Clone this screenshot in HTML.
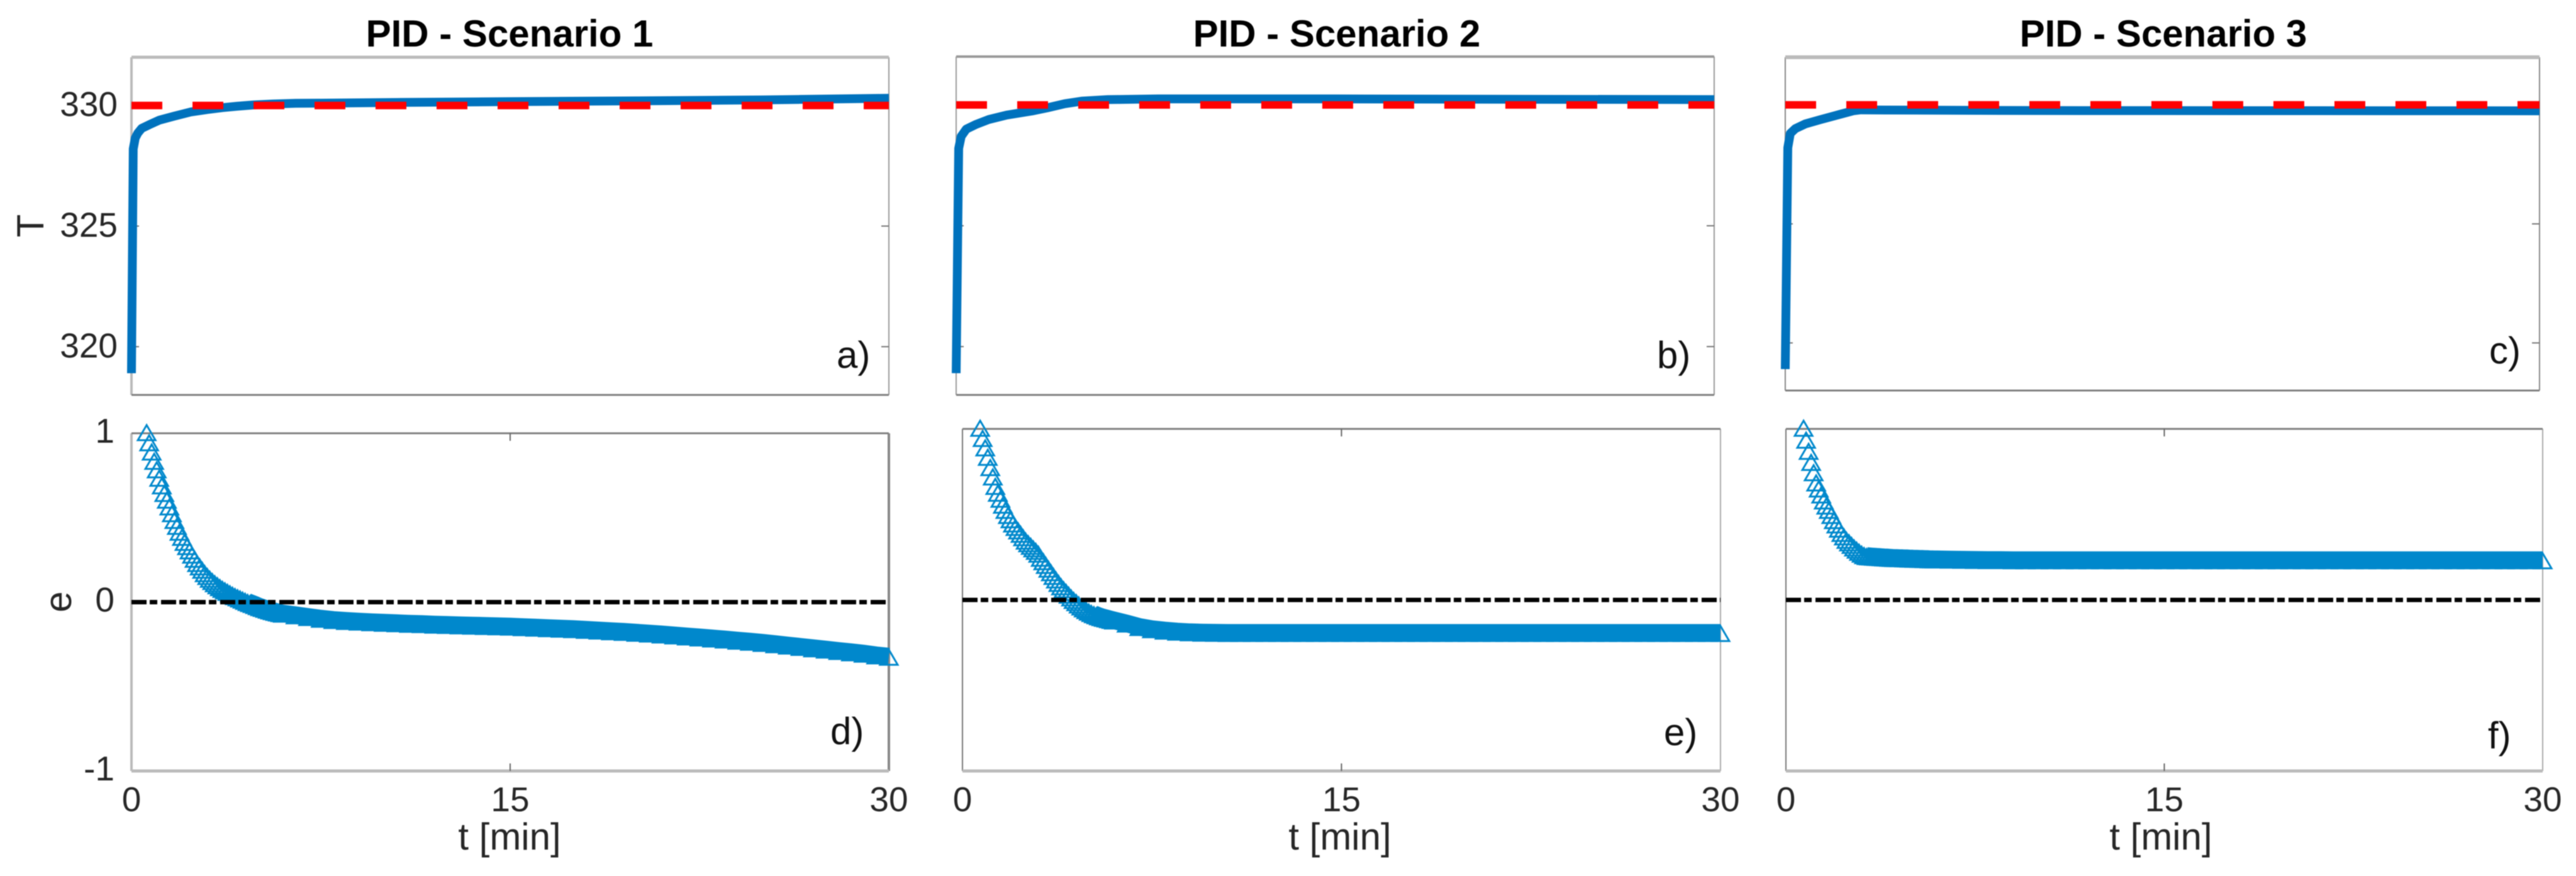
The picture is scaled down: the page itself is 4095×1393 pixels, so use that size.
<!DOCTYPE html>
<html lang="en">
<head>
<meta charset="utf-8">
<title>PID scenarios</title>
<style>
html,body{margin:0;padding:0;background:#fff;}
#figure{display:block;width:4095px;height:1393px;background:#fff;filter:blur(0.8px);}
text{font-family:"Liberation Sans",sans-serif;fill:#262626;font-size:55px;}
.title{font-size:60px;font-weight:bold;fill:#000;text-anchor:middle;}
.axis-title{font-size:60px;}
.panel-label{font-size:60px;fill:#111;}
</style>
</head>
<body>
<svg id="figure" xmlns="http://www.w3.org/2000/svg" width="4095" height="1393" viewBox="0 0 4095 1393">
  <text class="title" x="810" y="74">PID - Scenario 1</text>
  <text class="title" x="2125" y="74">PID - Scenario 2</text>
  <text class="title" x="3439" y="74">PID - Scenario 3</text>
  <text class="axis-title" transform="translate(69,359) rotate(-90)" text-anchor="middle">T</text>
  <text class="axis-title" transform="translate(113,957) rotate(-90)" text-anchor="middle">e</text>
  <text class="axis-title" x="810" y="1351" text-anchor="middle">t [min]</text>
  <text class="axis-title" x="2130" y="1351" text-anchor="middle">t [min]</text>
  <text class="axis-title" x="3435" y="1351" text-anchor="middle">t [min]</text>
  <g id="plots"></g>
  <text class="panel-label" x="1330" y="585">a)</text>
  <text class="panel-label" x="2634" y="585">b)</text>
  <text class="panel-label" x="3957" y="578">c)</text>
  <text class="panel-label" x="1320" y="1183">d)</text>
  <text class="panel-label" x="2645" y="1185">e)</text>
  <text class="panel-label" x="3955" y="1190">f)</text>
</svg>
<script>
// ---- Chart data ----
const tempYTicks = [320, 325, 330];
const tempYTickLabels = ['320', '325', '330'];
const errorYTicks = [-1, 0, 1];
const errorYTickLabels = ['-1', '0', '1'];
const xTicks = [0, 15, 30];
const xTickLabels = ['0', '15', '30'];
const setpointTemp = [330];
const setpointError = [0];

const tempTimesA = [0, 0.07, 0.15, 0.25, 0.4, 0.7, 1.1, 1.7, 2.34, 3, 3.6, 4.2, 4.83, 5.6, 6.5, 8, 10, 15, 20, 25, 30];
const tempValuesA = [318.9, 328.2, 328.65, 328.85, 329.05, 329.2, 329.39, 329.56, 329.73, 329.83, 329.91, 329.97, 330.02, 330.06, 330.09, 330.1, 330.12, 330.16, 330.19, 330.23, 330.3];

const tempTimesB = [0, 0.1, 0.2, 0.4, 0.8, 1.3, 2, 3, 3.6, 4.3, 5, 6, 8, 15, 30];
const tempValuesB = [318.9, 328.2, 328.7, 329, 329.2, 329.4, 329.58, 329.75, 329.88, 330.05, 330.16, 330.22, 330.25, 330.25, 330.22];

const tempTimesC = [0, 0.1, 0.2, 0.4, 0.8, 1.4, 2, 2.7, 3, 4, 10, 30];
const tempValuesC = [318.9, 328.2, 328.8, 329, 329.2, 329.38, 329.55, 329.75, 329.79, 329.78, 329.76, 329.75];

const errorTimes = [0.6,0.7,0.8,0.9,1.0,1.1,1.2,1.3,1.4,1.5,1.6,1.7,1.8,1.9,2.0,2.1,2.2,2.3,2.4,2.5,2.6,2.7,2.8,2.9,3.0,3.1,3.2,3.3,3.4,3.5,3.6,3.7,3.8,3.9,4.0,4.1,4.2,4.3,4.4,4.5,4.6,4.7,4.8,4.9,5.0,5.1,5.2,5.3,5.4,5.5,5.6,5.7,5.8,5.9,6.0,
  6.5,7,7.5,8,8.5,9,9.5,10,10.5,11,11.5,12,12.5,13,13.5,14,14.5,15,15.5,16,16.5,17,17.5,18,18.5,19,19.5,20,20.5,21,21.5,22,22.5,23,23.5,24,24.5,25,25.5,26,26.5,27,27.5,28,28.5,29,29.5,30];

const errorValuesD = [1,0.94,0.885,0.83,0.78,0.73,0.685,0.64,0.6,0.56,0.52,0.48,0.445,0.41,0.38,0.35,0.325,0.3,0.275,0.25,0.225,0.205,0.185,0.165,0.148,0.132,0.118,0.105,0.093,0.082,0.072,0.063,0.054,0.045,0.037,0.029,0.022,0.015,0.008,0.001,-0.006,-0.012,-0.018,-0.024,-0.03,-0.036,-0.041,-0.046,-0.051,-0.056,-0.06,-0.064,-0.068,-0.072,-0.075,
  -0.085,-0.095,-0.105,-0.113,-0.118,-0.122,-0.126,-0.129,-0.132,-0.135,-0.137,-0.14,-0.142,-0.144,-0.146,-0.148,-0.15,-0.152,-0.155,-0.158,-0.161,-0.164,-0.167,-0.171,-0.175,-0.179,-0.183,-0.188,-0.193,-0.198,-0.204,-0.21,-0.216,-0.222,-0.228,-0.235,-0.241,-0.248,-0.256,-0.264,-0.272,-0.28,-0.288,-0.296,-0.304,-0.312,-0.322,-0.33];

const errorValuesE = [null,1,0.94,0.885,0.83,0.77,0.715,0.66,0.62,0.585,0.55,0.52,0.49,0.465,0.44,0.42,0.4,0.38,0.36,0.34,0.325,0.31,0.295,0.28,0.264,0.24,0.22,0.198,0.176,0.155,0.134,0.113,0.093,0.073,0.056,0.04,0.024,0.008,-0.007,-0.02,-0.033,-0.045,-0.056,-0.066,-0.075,-0.083,-0.09,-0.096,-0.102,-0.107,-0.111,-0.115,-0.119,-0.123,-0.127,
  -0.145,-0.165,-0.178,-0.186,-0.192,-0.196,-0.198,-0.199,-0.2,-0.2,-0.2,-0.2,-0.2,-0.2,-0.2,-0.2,-0.2,-0.2,-0.2,-0.2,-0.2,-0.2,-0.2,-0.2,-0.2,-0.2,-0.2,-0.2,-0.2,-0.2,-0.2,-0.2,-0.2,-0.2,-0.2,-0.2,-0.2,-0.2,-0.2,-0.2,-0.2,-0.2,-0.2,-0.2,-0.2,-0.2,-0.2,-0.2];

const errorValuesF = [null,1,0.93,0.865,0.8,0.74,0.68,0.645,0.61,0.575,0.545,0.52,0.49,0.46,0.435,0.41,0.385,0.365,0.345,0.33,0.315,0.3,0.287,0.275,0.264,0.255,0.25,0.248,0.247,0.246,0.245,0.244,0.243,0.242,0.241,0.24,0.239,0.238,0.238,0.237,0.237,0.236,0.236,0.235,0.235,0.234,0.234,0.233,0.233,0.232,0.232,0.231,0.231,0.23,0.23,
  0.229,0.228,0.227,0.226,0.226,0.225,0.225,0.225,0.225,0.225,0.225,0.225,0.225,0.225,0.225,0.225,0.225,0.225,0.225,0.225,0.225,0.225,0.225,0.225,0.225,0.225,0.225,0.225,0.225,0.225,0.225,0.225,0.225,0.225,0.225,0.225,0.225,0.225,0.225,0.225,0.225,0.225,0.225,0.225,0.225,0.225,0.225,0.225];

// ---- Rendering ----
const SVG_NS = 'http://www.w3.org/2000/svg';
const plots = document.getElementById('plots');

function make(parent, tag, attrs, name) {
  const el = document.createElementNS(SVG_NS, tag);
  for (const k in attrs) el.setAttribute(k, attrs[k]);
  
  
  parent.appendChild(el);
  return el;
}

function scaleLinear(d0, d1, r0, r1) {
  return function (v) { return r0 + (v - d0) * (r1 - r0) / (d1 - d0); };
}

function drawFrame(g, box, styles) {
  make(g, 'line', {x1: box.l, x2: box.l, y1: box.t, y2: box.b, stroke: styles.left[0], 'stroke-width': styles.left[1]}, 'axis-left');
  make(g, 'line', {x1: box.r, x2: box.r, y1: box.t, y2: box.b, stroke: styles.right[0], 'stroke-width': styles.right[1]}, 'axis-right');
  make(g, 'line', {x1: box.l, x2: box.r, y1: box.t, y2: box.t, stroke: styles.top[0], 'stroke-width': styles.top[1]}, 'axis-top');
  make(g, 'line', {x1: box.l, x2: box.r, y1: box.b, y2: box.b, stroke: styles.bottom[0], 'stroke-width': styles.bottom[1]}, 'axis-bottom');
}

function drawYLabels(g, ticks, labels, y, rightX, baselineOffset) {
  ticks.forEach(function (v, i) {
    const t = make(g, 'text', {x: rightX, y: y(v) + baselineOffset, 'text-anchor': 'end'}, 'y-tick-label');
    t.textContent = labels[i];
  });
}

function drawTempPanel(cfg) {
  const g = make(plots, 'g', {}, 'temperature-panel-' + cfg.id);
  const x = scaleLinear(0, 30, cfg.box.l, cfg.box.r);
  const y = scaleLinear(318, 332, cfg.box.b, cfg.box.t);
  drawFrame(g, cfg.box, cfg.frame);
  tempYTicks.forEach(function (v) {
    make(g, 'line', {x1: cfg.box.l, x2: cfg.box.l + 12, y1: y(v), y2: y(v), stroke: '#777', 'stroke-width': 2}, 'y-tick-left');
    make(g, 'line', {x1: cfg.box.r - 12, x2: cfg.box.r, y1: y(v), y2: y(v), stroke: '#777', 'stroke-width': 2}, 'y-tick-right');
  });
  if (cfg.labels) drawYLabels(g, tempYTicks, tempYTickLabels, y, 187, 17);
  const pts = cfg.times.map(function (t, i) { return x(t).toFixed(1) + ',' + y(cfg.values[i]).toFixed(1); }).join(' ');
  make(g, 'polyline', {points: pts, fill: 'none', stroke: '#0072BD', 'stroke-width': 14, 'stroke-linejoin': 'round'}, 'temperature-line');
  make(g, 'line', {x1: cfg.box.l, x2: cfg.box.r, y1: y(setpointTemp[0]), y2: y(setpointTemp[0]), stroke: '#ff0000', 'stroke-width': 12, 'stroke-dasharray': '49 48'}, 'setpoint-line');
}

function drawErrorPanel(cfg) {
  const g = make(plots, 'g', {}, 'error-panel-' + cfg.id);
  const x = scaleLinear(0, 30, cfg.box.l, cfg.box.r);
  const y = scaleLinear(-1, 1, cfg.box.b, cfg.box.t);
  drawFrame(g, cfg.box, cfg.frame);
  make(g, 'line', {x1: x(xTicks[1]), x2: x(xTicks[1]), y1: cfg.box.t, y2: cfg.box.t + 12, stroke: '#666', 'stroke-width': 2}, 'x-tick-top');
  make(g, 'line', {x1: x(xTicks[1]), x2: x(xTicks[1]), y1: cfg.box.b - 12, y2: cfg.box.b, stroke: '#666', 'stroke-width': 2}, 'x-tick-bottom');
  xTicks.forEach(function (v, i) {
    const t = make(g, 'text', {x: x(v), y: 1290, 'text-anchor': 'middle'}, 'x-tick-label');
    t.textContent = xTickLabels[i];
  });
  if (cfg.labels) {
    drawYLabels(g, errorYTicks, errorYTickLabels, y, 182, 15);
  }
  errorTimes.forEach(function (t, i) {
    const v = cfg.values[i];
    if (v === null) return;
    const cx = x(t), cy = y(v);
    const pts = cx.toFixed(1) + ',' + (cy - 13).toFixed(1) + ' ' + (cx - 14).toFixed(1) + ',' + (cy + 11).toFixed(1) + ' ' + (cx + 14).toFixed(1) + ',' + (cy + 11).toFixed(1);
    make(g, 'polygon', {points: pts, fill: 'none', stroke: '#0088cc', 'stroke-width': 3}, 'error-marker');
  });
  // solid band joining the late samples, where the markers fully overlap
  const band = [];
  errorTimes.forEach(function (t, i) {
    if (t >= cfg.bandFrom && cfg.values[i] !== null) band.push(x(t).toFixed(1) + ',' + (y(cfg.values[i]) - 2).toFixed(1));
  });
  make(g, 'polyline', {points: band.join(' '), fill: 'none', stroke: '#0088cc', 'stroke-width': 28}, 'error-band');
  make(g, 'line', {x1: cfg.box.l, x2: cfg.box.r, y1: y(setpointError[0]), y2: y(setpointError[0]), stroke: '#000', 'stroke-width': 7, 'stroke-dasharray': '24 5 12 6'}, 'zero-line');
}

drawTempPanel({id: 'a', box: {l: 209, r: 1413, t: 91, b: 628}, labels: true, times: tempTimesA, values: tempValuesA,
  frame: {top: ['#bbb', 5], bottom: ['#808080', 3], left: ['#bbb', 4], right: ['#999', 2]}});
drawTempPanel({id: 'b', box: {l: 1520, r: 2725, t: 90, b: 628}, labels: false, times: tempTimesB, values: tempValuesB,
  frame: {top: ['#999', 4], bottom: ['#808080', 3], left: ['#999', 2], right: ['#999', 2]}});
drawTempPanel({id: 'c', box: {l: 2838, r: 4037, t: 91, b: 621}, labels: false, times: tempTimesC, values: tempValuesC,
  frame: {top: ['#bbb', 6], bottom: ['#808080', 3], left: ['#888', 2], right: ['#888', 2]}});

drawErrorPanel({id: 'd', box: {l: 209, r: 1413, t: 689, b: 1226}, labels: true, values: errorValuesD, bandFrom: 4.6,
  frame: {top: ['#808080', 3], bottom: ['#bbb', 5], left: ['#bbb', 4], right: ['#888', 4]}});
drawErrorPanel({id: 'e', box: {l: 1530, r: 2735, t: 682, b: 1226}, labels: false, values: errorValuesE, bandFrom: 5.2,
  frame: {top: ['#808080', 3], bottom: ['#bbb', 5], left: ['#777', 2], right: ['#aaa', 2]}});
drawErrorPanel({id: 'f', box: {l: 2839, r: 4042, t: 682, b: 1226}, labels: false, values: errorValuesF, bandFrom: 3.2,
  frame: {top: ['#808080', 3], bottom: ['#bbb', 5], left: ['#777', 2], right: ['#aaa', 2]}});
</script>
</body>
</html>
